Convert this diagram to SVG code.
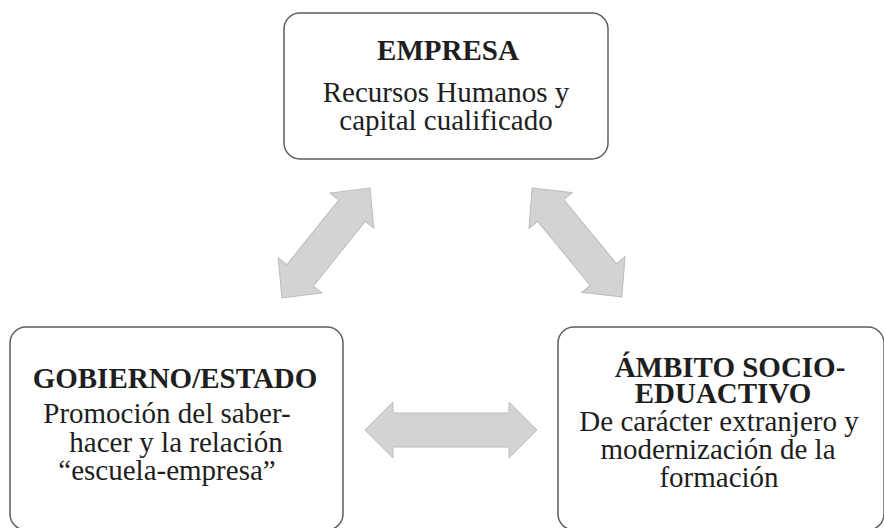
<svg xmlns="http://www.w3.org/2000/svg" width="884" height="528" viewBox="0 0 884 528">
<style>
.box{fill:#ffffff;stroke:#5e5e5e;stroke-width:1.5}
.t{font-size:29px;fill:#1e1e1e;text-anchor:middle}
.b{font-weight:bold}
.arr{fill:#d3d3d3;stroke:#bcbcbc;stroke-width:1}
</style>
<defs>
<path id="darrow" d="M -70.5 0 L -41.5 -28 L -41.5 -17 L 41.5 -17 L 41.5 -28 L 70.5 0 L 41.5 28 L 41.5 17 L -41.5 17 L -41.5 28 Z"/>
</defs>
<rect width="884" height="528" fill="#ffffff"/>
<g id="connectors">
<use href="#darrow" class="arr" transform="translate(326 243) rotate(-51.3)"/>
<use href="#darrow" class="arr" transform="translate(577 242.5) rotate(50.5)"/>
<path class="arr" d="M 365 430 L 393 402 L 393 413 L 509 413 L 509 402 L 537 430 L 509 458 L 509 447 L 393 447 L 393 458 Z"/>
</g>
<g id="empresa" font-family="Liberation Serif, Times New Roman, serif">
<rect class="box" x="284" y="13" width="324" height="146" rx="16"/>
<text class="t b" x="448" y="60">EMPRESA</text>
<text class="t" x="446" y="102">Recursos Humanos y</text>
<text class="t" x="446" y="130">capital cualificado</text>
</g>
<g id="gobierno" font-family="Liberation Serif, Times New Roman, serif">
<rect class="box" x="10" y="327" width="333" height="203" rx="16"/>
<text class="t b" x="175" y="388">GOBIERNO/ESTADO</text>
<text class="t" x="167" y="423">Promoción del saber-</text>
<text class="t" x="176" y="452">hacer y la relación</text>
<text class="t" x="167" y="480">“escuela-empresa”</text>
</g>
<g id="ambito" font-family="Liberation Serif, Times New Roman, serif">
<rect class="box" x="558" y="327" width="326" height="203" rx="16"/>
<text class="t b" x="730" y="377">ÁMBITO SOCIO-</text>
<text class="t b" x="723" y="403">EDUACTIVO</text>
<text class="t" x="719" y="431">De carácter extranjero y</text>
<text class="t" x="718" y="459">modernización de la</text>
<text class="t" x="719" y="487">formación</text>
</g>
</svg>
